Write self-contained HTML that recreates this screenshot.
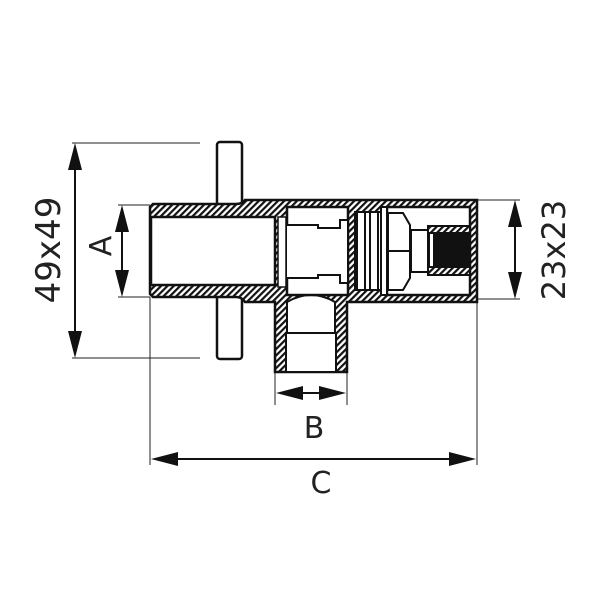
<!DOCTYPE html>
<html><head><meta charset="utf-8"><style>body{margin:0;background:#fff}svg{display:block}text{font-family:"DejaVu Sans","Liberation Sans",sans-serif;fill:#222}</style></head>
<body>
<svg width="600" height="600" viewBox="0 0 600 600">
<defs>
<pattern id="h" width="4.5" height="4.5" patternUnits="userSpaceOnUse" patternTransform="rotate(45)"><rect width="4.5" height="4.5" fill="#fff"/><rect width="2.2" height="4.5" fill="#111"/></pattern>
</defs>
<g stroke="#222" stroke-width="1" fill="none">
<line x1="72" y1="143" x2="200" y2="143"/><line x1="72" y1="358" x2="200" y2="358"/>
<line x1="118" y1="205" x2="150" y2="205"/><line x1="118" y1="297" x2="150" y2="297"/>
<line x1="150" y1="297" x2="150" y2="465"/><line x1="477" y1="300" x2="477" y2="465"/>
<line x1="477" y1="200" x2="520" y2="200"/><line x1="477" y1="299" x2="520" y2="299"/>
<line x1="275" y1="372" x2="275" y2="405"/><line x1="347" y1="372" x2="347" y2="405"/>
</g>
<g stroke="#111" stroke-width="2">
<line x1="75" y1="150" x2="75" y2="350"/>
<line x1="122" y1="212" x2="122" y2="290"/>
<line x1="515" y1="207" x2="515" y2="292"/>
<line x1="282" y1="393" x2="340" y2="393"/>
<line x1="157" y1="459" x2="470" y2="459"/>
</g>
<g fill="#111">
<path d="M75,143 L82,170 L68,170Z M75,358 L82,331 L68,331Z"/>
<path d="M122,205 L129,232 L115,232Z M122,297 L129,270 L115,270Z"/>
<path d="M515,200 L522,227 L508,227Z M515,299 L522,272 L508,272Z"/>
<path d="M276,393 L303,386 L303,400Z M346,393 L319,386 L319,400Z"/>
<path d="M151,459 L178,452 L178,466Z M476,459 L449,452 L449,466Z"/>
</g>
<rect x="217" y="142" width="25" height="217" rx="3" fill="#fff" stroke="#111" stroke-width="2.5"/>
<g stroke="#111" stroke-width="2.5">
<path d="M150,207 L153,204 L236,204 Q242,204 245,200 L477,200 L477,302 L347,302 L347,372 L275,372 L275,302 L245,302 Q242,297 236,297 L153,297 L150,294 Z" fill="url(#h)"/>
<rect x="151" y="217" width="124" height="68" fill="#fff"/>
<path d="M287,302 Q311,288 335,302 L335,333 L287,333 Z" fill="#fff" stroke-width="2"/>
<rect x="286" y="333" width="50" height="39" fill="#fff" stroke-width="2"/>
<rect x="287" y="207" width="61" height="88" fill="#fff"/>
<rect x="355" y="212" width="30" height="78" fill="#fff" stroke-width="2"/>
<rect x="387" y="207" width="83" height="88" fill="#fff"/>
<rect x="278" y="217" width="8" height="70" fill="#fff" stroke-width="1.5"/>
</g>
<g stroke="#111" stroke-width="2" fill="#fff">
<path d="M287,225 L318,225 L318,228 L340,228 L340,220 L348,220 L348,283 L340,283 L340,275 L318,275 L318,278 L287,278"/>
<rect x="357" y="212" width="8" height="78"/>
<rect x="370" y="212" width="8" height="78"/>
<rect x="381" y="207" width="6" height="88"/>
<path d="M388,213 L403,213 L410,225 L410,278 L403,290 L388,290Z"/>
<line x1="388" y1="251" x2="410" y2="251"/>
<rect x="411" y="230" width="17" height="42"/>
<rect x="428" y="226" width="42" height="49" fill="url(#h)"/>
<rect x="434" y="233" width="36" height="34" fill="#111"/>
<rect x="429" y="233" width="5" height="34"/>
</g>
<text x="314" y="438" font-size="30" text-anchor="middle">B</text>
<text x="321" y="493" font-size="30" text-anchor="middle">C</text>
<text transform="translate(111,246) rotate(-90)" font-size="30" text-anchor="middle">A</text>
<text transform="translate(60,250) rotate(-90)" font-size="34" text-anchor="middle">49x49</text>
<text transform="translate(565,250) rotate(-90)" font-size="32" text-anchor="middle">23x23</text>
</svg>
</body></html>
